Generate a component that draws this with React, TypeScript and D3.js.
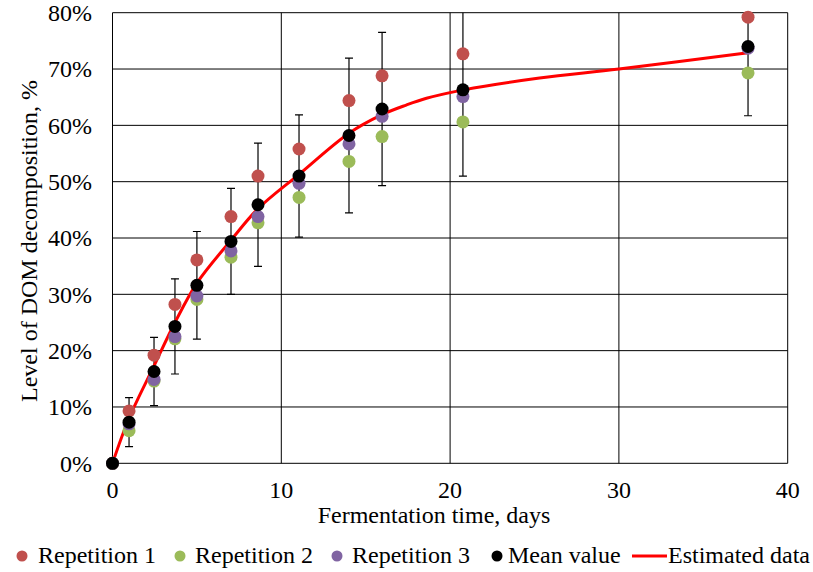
import React from "react";
import * as d3 from "d3";

const days = [0, 0.98, 2.46, 3.7, 5.0, 7.02, 8.62, 11.05, 14.01, 15.97, 20.76, 37.65];
const rep1 = [0, 9.3, 19.2, 28.2, 36.1, 43.8, 51.0, 55.8, 64.4, 68.8, 72.7, 79.2];
const rep2 = [0, 5.8, 14.6, 22.1, 29.1, 36.6, 42.7, 47.2, 53.6, 58.0, 60.6, 69.3];
const rep3 = [0, 7.0, 14.9, 22.5, 29.7, 37.7, 43.8, 49.7, 56.7, 61.6, 65.1, 73.7];
const meanVal = [0, 7.3, 16.3, 24.3, 31.6, 39.4, 45.9, 51.0, 58.2, 62.9, 66.3, 74.0];
const errVal = [0, 4.35, 6.05, 8.45, 9.55, 9.4, 10.95, 10.85, 13.75, 13.6, 15.3, 12.3];

const estDays = [0, 0.98, 2.46, 3.7, 5.0, 7.02, 8.62, 11.05, 14.01, 15.97, 17.4, 18.6, 20.8, 25.3, 30.0, 37.65];
const estimated = [0, 8.0, 17.3, 25.0, 32.0, 39.6, 45.2, 51.3, 58.6, 61.9, 63.6, 64.8, 66.3, 68.4, 70.0, 72.9];

const xTicks = [0, 10, 20, 30, 40];
const yTicks = [0, 10, 20, 30, 40, 50, 60, 70, 80];

const seriesNames = ["Repetition 1", "Repetition 2", "Repetition 3", "Mean value", "Estimated data"];
const colors = ["#C0504D", "#9BBB59", "#8064A2", "#000000", "#FF0000"];

const W = 813;
const H = 572;
const FONT = "Liberation Serif, Times New Roman, serif";

export default function App() {
  const x = d3.scaleLinear().domain([0, 40]).range([112.5, 787.7]);
  const y = d3.scaleLinear().domain([0, 80]).range([463.3, 12.7]);
  const r = 6.5;

  const line = d3
    .line<number>()
    .x((_, i) => x(estDays[i]))
    .y((d) => y(d))
    .curve(d3.curveCatmullRom.alpha(0.5));

  const scatterSeries = [rep1, rep2, rep3];
  const fs = 24;
  const ts = { fontFamily: FONT, fontSize: fs };

  return (
    <svg
      width={W}
      height={H}
      style={{ position: "absolute", left: 0, top: 0, background: "#fff", fontFamily: FONT }}
    >
      <defs>
        <clipPath id="plotClip">
          <rect x={x(0)} y={y(80)} width={x(40) - x(0)} height={y(0) - y(80)} />
        </clipPath>
      </defs>
      {/* gridlines */}
      {yTicks.map((t) => (
        <line key={"gy" + t} x1={x(0)} x2={x(40)} y1={y(t)} y2={y(t)} stroke="#000" strokeWidth={1} />
      ))}
      {xTicks.map((t) => (
        <line key={"gx" + t} x1={x(t)} x2={x(t)} y1={y(0)} y2={y(80)} stroke="#000" strokeWidth={1} />
      ))}
      {/* tick labels */}
      {yTicks.map((t) => (
        <text key={"ty" + t} x={92} y={y(t)} dy="0.35em" textAnchor="end" style={ts} fill="#000">
          {t + "%"}
        </text>
      ))}
      {xTicks.map((t) => (
        <text key={"tx" + t} x={x(t)} y={498} textAnchor="middle" style={ts} fill="#000">
          {t}
        </text>
      ))}
      {/* axis titles */}
      <text x={434} y={523} textAnchor="middle" style={ts} fill="#000">
        Fermentation time, days
      </text>
      <text transform="translate(37,241) rotate(-90)" textAnchor="middle" style={ts} fill="#000">
        Level of DOM decomposition, %
      </text>

      {/* error bars */}
      <g clipPath="url(#plotClip)">
        {days.map((d, i) =>
          errVal[i] > 0 ? (
            <g key={"e" + i} stroke="#000" strokeWidth={1.2}>
              <line x1={x(d)} x2={x(d)} y1={y(meanVal[i] + errVal[i])} y2={y(meanVal[i] - errVal[i])} />
              <line x1={x(d) - 4} x2={x(d) + 4} y1={y(meanVal[i] + errVal[i])} y2={y(meanVal[i] + errVal[i])} />
              <line x1={x(d) - 4} x2={x(d) + 4} y1={y(meanVal[i] - errVal[i])} y2={y(meanVal[i] - errVal[i])} />
            </g>
          ) : null
        )}
      </g>
      {/* estimated line */}
      <path d={line(estimated) || ""} fill="none" stroke={colors[4]} strokeWidth={3} />
      {/* scatter */}
      {scatterSeries.map((s, si) =>
        s.map((v, i) => <circle key={"s" + si + "-" + i} cx={x(days[i])} cy={y(v)} r={r} fill={colors[si]} />)
      )}
      {meanVal.map((v, i) => (
        <circle key={"m" + i} cx={x(days[i])} cy={y(v)} r={r} fill={colors[3]} />
      ))}

      {/* legend */}
      <g fill="#000">
        <circle cx={22} cy={556} r={5.5} fill={colors[0]} />
        <text x={38} y={563} style={ts}>{seriesNames[0]}</text>
        <circle cx={180} cy={556} r={5.5} fill={colors[1]} />
        <text x={195} y={563} style={ts}>{seriesNames[1]}</text>
        <circle cx={337} cy={556} r={5.5} fill={colors[2]} />
        <text x={352} y={563} style={ts}>{seriesNames[2]}</text>
        <circle cx={497} cy={556} r={5.5} fill={colors[3]} />
        <text x={508} y={563} style={ts}>{seriesNames[3]}</text>
        <line x1={632} x2={667} y1={556} y2={556} stroke={colors[4]} strokeWidth={3} />
        <text x={668} y={563} style={ts}>{seriesNames[4]}</text>
      </g>
    </svg>
  );
}
